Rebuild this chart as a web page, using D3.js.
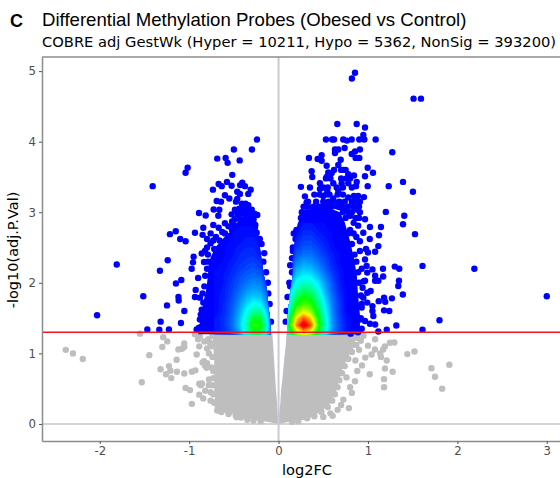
<!DOCTYPE html>
<html>
<head>
<meta charset="utf-8">
<script src="https://cdnjs.cloudflare.com/ajax/libs/d3/7.8.5/d3.min.js"></script>
<style>
	body { margin: 0; background: #fff; }
	svg { display: block; }
</style>
</head>
<body>
<svg id="chart" width="560" height="478"></svg>
<script>
// axis ticks
const xTicks = [-2, -1, 0, 1, 2, 3];
const yTicks = [0, 1, 2, 3, 4, 5];
const cutoff = 1.3;

// solid gray mass below the cutoff, read as an outline per level
const grayLeftY = [1.3, 1.1, 0.9, 0.7, 0.5, 0.35, 0.25, 0.15, 0.08, 0.03, 0];
const grayLeftOuter = [-0.74, -0.73, -0.72, -0.72, -0.72, -0.71, -0.69, -0.51, -0.375, -0.13, 0];
const grayLeftInner = [-0.07, -0.06, -0.05, -0.04, -0.03, -0.02, -0.015, -0.01, -0.005, 0, 0];
const grayRightY = [1.3, 1.1, 1.0, 0.8, 0.6, 0.5, 0.4, 0.3, 0.2, 0.12, 0.06, 0.03, 0];
const grayRightOuter = [0.87, 0.85, 0.8, 0.72, 0.67, 0.65, 0.62, 0.58, 0.5, 0.4, 0.3, 0.12, 0];
const grayRightInner = [0.09, 0.08, 0.07, 0.055, 0.04, 0.03, 0.025, 0.02, 0.01, 0.005, 0.005, 0, 0];

// separate gray probes
const nonSigPoints = [
	[-2.38, 1.05], [-2.3, 1.0], [-2.19, 0.92], [-1.55, 1.28], [-1.29, 1.23], [-1.245, 1.17], [-1.3, 1.09],
	[-1.446, 0.975], [-1.12, 1.055], [-1.08, 1.065], [-1.055, 1.14], [-1.055, 1.09], [-1.14, 0.91], [-1.226, 0.82],
	[-1.32, 0.775], [-1.21, 0.755], [-1.26, 0.705], [-1.137, 0.74], [-1.055, 0.715], [-1.2, 0.65], [-1.53, 0.59],
	[-0.97, 0.74], [-0.93, 0.76], [-1.04, 0.51], [-0.99, 0.48], [-0.97, 0.285], [-0.887, 0.57], [-0.857, 0.575],
	[-0.887, 0.415], [-0.842, 0.36], [-0.87, 0.55], [-0.916, 0.985], [-0.887, 1.1], [-0.9, 1.2], [-0.935, 1.27],
	[-0.88, 1.24], [-0.834, 0.89], [-0.823, 0.83], [-0.804, 0.795], [-0.85, 0.87], [-0.8, 0.86], [-0.778, 1.0],
	[-0.767, 1.15], [-0.786, 1.2], [-0.778, 0.63], [-0.73, 0.75], [-0.69, 0.32], [-0.686, 0.19], [-0.47, 0.094],
	[-0.6, 0.2], [-0.82, 0.47], [-0.76, 0.45], [-0.64, 0.17], [-0.56, 0.14], [-0.8, 1.07], [-0.83, 1.17],
	[-0.74, 1.25], [-0.75, 1.1], [-0.74, 0.95], [-0.75, 0.8], [-0.73, 0.65], [-0.74, 0.55], [-0.73, 0.42], [-0.72, 0.3],
	[-0.68, 0.25], [-0.63, 0.22], [-0.55, 0.17], [-0.48, 0.13], [-0.42, 0.09], [-0.35, 0.06], [-0.28, 0.05], [-0.2, 0.04],
	[-0.65, 0.4], [-0.78, 0.55], [-0.76, 0.33],
	[1.295, 1.155], [1.246, 1.15], [1.19, 1.1], [1.17, 1.055], [1.078, 1.055], [1.04, 0.985], [0.97, 0.94],
	[1.137, 1.0], [1.145, 0.95], [1.21, 0.9], [1.44, 0.99], [1.52, 1.027], [1.71, 0.79], [1.91, 0.84], [1.75, 0.67],
	[1.83, 0.5], [1.19, 0.785], [1.276, 0.74], [1.18, 0.635], [1.18, 0.52], [1.02, 0.705], [0.787, 0.225], [0.605, 0.115],
	[0.933, 0.83], [1.08, 1.2], [1.0, 1.11], [0.95, 1.25], [0.88, 0.75], [0.855, 0.605], [0.82, 0.44], [0.725, 0.345],
	[0.9, 1.05], [0.92, 1.18], [0.86, 0.9], [0.8, 0.52], [0.7, 0.27], [0.66, 0.2], [0.58, 0.15], [0.5, 0.1], [0.76, 0.66],
	[0.88, 1.22], [0.87, 1.12], [0.82, 1.02], [0.78, 0.92], [0.74, 0.82], [0.71, 0.72], [0.68, 0.62], [0.66, 0.52],
	[0.63, 0.42], [0.6, 0.33], [0.55, 0.24], [0.48, 0.17], [0.4, 0.11], [0.32, 0.08], [0.22, 0.04], [0.15, 0.03]
];

// solid blue mass above the cutoff, same idea as the gray one
const blueLeftY = [1.27, 1.5, 1.7, 1.9, 2.1, 2.3, 2.5, 2.7, 2.8];
const blueLeftOuter = [-0.9, -0.87, -0.845, -0.81, -0.79, -0.78, -0.71, -0.57, -0.43];
const blueLeftInner = [-0.09, -0.096, -0.118, -0.13, -0.163, -0.186, -0.208, -0.23, -0.3];
const blueRightY = [1.27, 1.55, 1.85, 2.1, 2.35, 2.6, 2.85, 3.0, 3.08];
const blueRightOuter = [0.91, 0.91, 0.888, 0.876, 0.843, 0.798, 0.742, 0.687, 0.52];
const blueRightInner = [0.094, 0.105, 0.127, 0.16, 0.16, 0.183, 0.217, 0.295, 0.407];

// separate blue probes
const hypoPoints = [
	[-0.242, 4.03], [-0.298, 3.89], [-0.5, 3.89], [-0.686, 3.76], [-0.592, 3.77], [-0.57, 3.7], [-0.435, 3.735],
	[-1.017, 3.63], [-1.04, 3.56], [-0.518, 3.53], [-1.408, 3.37], [-0.577, 3.43], [-0.67, 3.4], [-0.636, 3.37],
	[-0.734, 3.32], [-0.525, 3.375], [-0.43, 3.385], [-0.406, 3.42], [-0.376, 3.37], [-0.312, 3.32], [-0.339, 3.26],
	[-0.462, 3.29], [-0.432, 3.26], [-0.6, 3.24], [-0.551, 3.195], [-0.462, 3.19], [-0.476, 3.15], [-0.692, 3.16],
	[-0.644, 3.15], [-0.339, 3.1], [-0.89, 2.99], [-0.815, 2.955], [-0.726, 3.04], [-0.663, 3.035], [-0.674, 2.95],
	[-0.488, 3.035], [-0.525, 2.97], [-0.395, 3.0], [-0.3, 3.035], [-0.238, 2.96], [-0.73, 2.82], [-0.6, 2.845],
	[-1.215, 2.69], [-1.15, 2.73], [-0.935, 2.71], [-0.842, 2.78], [-0.76, 2.7], [-0.264, 2.78], [-0.245, 2.71],
	[-0.45, 2.95], [-0.36, 2.93], [-0.3, 2.9], [-0.42, 2.87], [-0.52, 2.87], [-0.56, 2.8], [-0.67, 2.78], [-0.63, 2.72],
	[-0.5, 2.78], [-0.35, 2.85], [-0.28, 2.85], [-0.7, 2.65], [-0.85, 2.68], [-0.8, 2.62], [-1.1, 2.62], [-1.04, 2.59],
	[-1.81, 2.26], [-1.24, 2.32], [-1.327, 2.17], [-1.148, 1.99], [-1.088, 2.04], [-1.513, 1.81], [-1.12, 1.8],
	[-1.117, 1.75], [-1.248, 1.68], [-1.054, 1.6], [-2.03, 1.54], [-1.319, 1.45], [-1.092, 1.43], [-1.468, 1.34],
	[-1.334, 1.335], [-1.226, 1.34], [-0.95, 2.37], [-0.957, 2.29], [-0.972, 2.2], [-0.86, 2.415], [-0.834, 2.295],
	[-0.9, 2.07], [-0.927, 1.9], [-0.935, 1.8], [-0.88, 1.79], [-0.842, 1.72], [-0.88, 1.48], [-0.823, 1.48],
	[-0.89, 1.365], [-0.916, 1.34], [-0.804, 1.365], [-0.823, 2.45], [-0.8, 2.5], [-0.76, 2.56], [-0.73, 2.6],
	[-0.12, 2.0], [-0.14, 2.15], [-0.17, 2.3], [-0.16, 2.42], [-0.19, 2.55], [-0.21, 2.62], [-0.085, 1.45], [-0.1, 1.7],
	[-0.115, 1.85],
	// dense top of the left lobe and its rough edge
	[-0.52, 2.75], [-0.47, 2.75], [-0.42, 2.75], [-0.37, 2.75], [-0.33, 2.75], [-0.28, 2.75], [-0.5, 2.82], [-0.44, 2.82],
	[-0.39, 2.82], [-0.34, 2.82], [-0.29, 2.82], [-0.26, 2.82], [-0.49, 2.9], [-0.43, 2.9], [-0.38, 2.9], [-0.33, 2.9],
	[-0.28, 2.9], [-0.46, 2.98], [-0.41, 2.98], [-0.35, 2.98], [-0.31, 2.98], [-0.27, 2.98], [-0.44, 3.05], [-0.38, 3.05],
	[-0.34, 3.05], [-0.41, 3.12], [-0.37, 3.12], [-0.86, 1.38], [-0.87, 1.55], [-0.86, 1.62], [-0.85, 1.85], [-0.83, 1.95],
	[-0.82, 2.1], [-0.8, 2.2], [-0.79, 2.3], [-0.79, 2.4], [-0.72, 2.48], [-0.66, 2.6], [-0.6, 2.7]
];

const hyperPoints = [
	[0.855, 4.976], [0.82, 4.895], [1.51, 4.61], [1.593, 4.61], [0.657, 4.25], [0.874, 4.25], [0.967, 4.2], [0.948, 4.095],
	[0.53, 4.03], [0.6, 4.03], [0.62, 4.03], [0.724, 4.03], [0.765, 4.015], [0.818, 4.03], [0.903, 4.03], [0.959, 4.03],
	[1.086, 4.03], [0.739, 3.91], [1.272, 3.85], [0.631, 3.89], [0.668, 3.89], [0.631, 3.84], [0.91, 3.89], [0.855, 3.86],
	[0.818, 3.825], [0.862, 3.77], [0.903, 3.77], [0.34, 3.77], [0.482, 3.81], [0.437, 3.755], [0.482, 3.73], [0.695, 3.745],
	[0.538, 3.66], [0.668, 3.67], [0.724, 3.6], [0.997, 3.63], [1.056, 3.56], [0.37, 3.58], [0.377, 3.5], [0.556, 3.565],
	[0.594, 3.555], [0.78, 3.54], [0.843, 3.52], [0.967, 3.51], [0.538, 3.5], [0.25, 3.36], [0.351, 3.35], [0.463, 3.41],
	[0.463, 3.33], [0.612, 3.41], [0.706, 3.41], [0.78, 3.41], [0.874, 3.43], [0.866, 3.37], [0.997, 3.37], [1.232, 3.37],
	[1.392, 3.43], [1.503, 3.29], [0.545, 3.3], [0.668, 3.3], [0.295, 3.225], [0.314, 3.14], [0.5, 3.23], [0.612, 3.195],
	[0.78, 3.21], [0.843, 3.23], [0.89, 3.23], [0.955, 3.215], [0.91, 3.15], [0.39, 3.04], [0.463, 3.07], [0.575, 3.09],
	[0.687, 3.07], [0.284, 2.95], [0.762, 3.03], [0.874, 3.04], [1.2, 3.005], [0.91, 3.0], [1.406, 2.95], [1.392, 2.83],
	[0.967, 2.9], [0.89, 2.81], [1.022, 2.79], [1.145, 2.79], [1.526, 2.69], [1.123, 2.675], [0.948, 2.71], [0.26, 2.85],
	[0.23, 2.72], [0.8, 2.95], [0.84, 2.85], [0.8, 2.75],
	[1.61, 2.24], [2.19, 2.2], [3.0, 1.81], [1.8, 1.47], [1.61, 1.335], [1.317, 1.395], [1.21, 1.335], [1.116, 1.31],
	[1.022, 1.42], [1.08, 1.41], [1.3, 2.23], [1.35, 2.2], [1.168, 2.2], [1.116, 2.52], [1.08, 2.44], [1.05, 2.19],
	[1.08, 2.1], [1.17, 2.09], [1.116, 2.03], [1.08, 2.03], [1.347, 2.03], [1.339, 1.955], [1.39, 1.835], [1.268, 1.78],
	[1.18, 1.79], [1.193, 1.73], [1.12, 1.74], [1.18, 1.61], [1.238, 1.6], [1.03, 1.885], [0.992, 1.86], [1.05, 1.67],
	[1.05, 1.6], [0.992, 1.72], [1.06, 1.53], [0.967, 1.46], [0.992, 2.145], [0.985, 2.24], [1.0, 2.43], [0.978, 2.48],
	[0.91, 2.59], [1.02, 2.62], [0.91, 2.45], [0.967, 2.33], [0.967, 2.03], [0.948, 1.79], [0.91, 1.48], [0.89, 1.3],
	[0.806, 1.28], [0.95, 2.02], [0.93, 2.2], [0.93, 1.65], [0.94, 1.93], [0.87, 2.65], [0.84, 2.7],
	[0.08, 1.45], [0.1, 1.8], [0.12, 2.0], [0.13, 2.25], [0.16, 2.5], [0.17, 2.7], [0.22, 2.65],
	// dense top of the right lobe and its rough edge
	[0.33, 3.15], [0.42, 3.15], [0.5, 3.15], [0.56, 3.15], [0.62, 3.15], [0.68, 3.15], [0.74, 3.15], [0.82, 3.15], [0.86, 3.15],
	[0.4, 3.25], [0.46, 3.25], [0.53, 3.25], [0.57, 3.25], [0.66, 3.25], [0.72, 3.25], [0.28, 3.08], [0.33, 3.08], [0.39, 3.08],
	[0.45, 3.08], [0.5, 3.08], [0.55, 3.08], [0.6, 3.08], [0.66, 3.08], [0.72, 3.08], [0.78, 3.08], [0.84, 3.08], [0.9, 3.08],
	[0.26, 3.0], [0.31, 3.0], [0.36, 3.0], [0.72, 3.0], [0.78, 3.0], [0.82, 3.0], [0.25, 2.92], [0.3, 2.92], [0.35, 2.92],
	[0.75, 2.92], [0.86, 2.92], [0.9, 2.92], [0.5, 3.35], [0.55, 3.35], [0.65, 3.35], [0.72, 3.35], [0.82, 3.35], [0.53, 3.48],
	[0.58, 3.48], [0.7, 3.48], [0.76, 3.48], [0.8, 3.48], [0.62, 3.6], [0.7, 3.6], [0.75, 3.6],
	[0.93, 1.35], [0.92, 1.5], [0.93, 1.7], [0.92, 1.82], [0.9, 2.0], [0.89, 2.15], [0.87, 2.3], [0.85, 2.4], [0.82, 2.55],
	[0.78, 2.7], [0.09, 1.6], [0.13, 1.95], [0.15, 2.15], [0.15, 2.35], [0.16, 2.45], [0.19, 2.62], [0.2, 2.75]
];

// density seen in the colours: 0 blue, 25 cyan, 50 green, 75 yellow, 100 red
const heatY = [1.2, 1.3, 1.4, 1.5, 1.6, 1.7, 1.8, 1.9, 2.0, 2.1, 2.2, 2.3, 2.4, 2.5, 2.6, 2.7, 2.8];
const heatLeftX = [-0.68, -0.6, -0.52, -0.44, -0.36, -0.28, -0.2, -0.12, -0.04];
const heatLeft = [
	[3, 5, 10, 18, 30, 44, 42, 22, 0],
	[3, 5, 10, 18, 30, 47, 45, 22, 0],
	[3, 6, 11, 20, 33, 56, 52, 24, 0],
	[3, 6, 11, 19, 30, 47, 45, 22, 0],
	[2, 5, 10, 17, 26, 36, 34, 18, 0],
	[2, 5, 9, 15, 22, 27, 25, 14, 0],
	[2, 4, 8, 13, 18, 21, 20, 11, 0],
	[1, 4, 7, 11, 15, 17, 16, 8, 0],
	[1, 3, 6, 9, 12, 14, 13, 5, 0],
	[1, 3, 5, 8, 10, 11, 10, 3, 0],
	[1, 2, 4, 6, 8, 9, 7, 1, 0],
	[0, 2, 3, 5, 6, 7, 5, 0, 0],
	[0, 1, 2, 4, 5, 5, 3, 0, 0],
	[0, 1, 2, 3, 4, 4, 2, 0, 0],
	[0, 0, 1, 2, 3, 3, 1, 0, 0],
	[0, 0, 1, 1, 2, 2, 1, 0, 0],
	[0, 0, 0, 1, 1, 1, 0, 0, 0]
];
const heatRightX = [0.04, 0.12, 0.2, 0.28, 0.36, 0.44, 0.52, 0.6, 0.68, 0.76, 0.84];
const heatRight = [
	[0, 36, 60, 72, 64, 44, 26, 14, 7, 2, 0],
	[0, 40, 68, 82, 74, 48, 28, 15, 7, 2, 0],
	[0, 50, 88, 108, 94, 58, 32, 16, 8, 3, 0],
	[0, 42, 78, 92, 80, 52, 30, 15, 7, 2, 0],
	[0, 34, 62, 72, 64, 45, 27, 14, 6, 1, 0],
	[0, 28, 50, 58, 54, 40, 24, 13, 6, 1, 0],
	[0, 22, 42, 50, 47, 34, 21, 12, 5, 1, 0],
	[0, 18, 34, 40, 38, 29, 18, 10, 4, 1, 0],
	[0, 14, 27, 31, 30, 24, 16, 9, 3, 0, 0],
	[0, 10, 21, 25, 24, 19, 13, 7, 3, 0, 0],
	[0, 6, 17, 20, 19, 15, 10, 5, 2, 0, 0],
	[0, 3, 13, 16, 15, 12, 8, 4, 1, 0, 0],
	[0, 2, 9, 12, 12, 9, 6, 3, 1, 0, 0],
	[0, 1, 6, 9, 9, 7, 4, 2, 0, 0, 0],
	[0, 0, 4, 7, 7, 5, 3, 1, 0, 0, 0],
	[0, 0, 2, 5, 5, 3, 2, 1, 0, 0, 0],
	[0, 0, 1, 3, 3, 2, 1, 0, 0, 0, 0]
];

const grayCol = "#bebebe";
const blueCol = "#0000ff";
const dotRadius = 3.2;

const svg = d3.select("#chart");

// panel runs off the right side of the picture, like the reference
const panel = { left: 42, right: 560, top: 57, bottom: 441 };

const x = d3.scaleLinear().domain([-2.646, 3.148]).range([panel.left, panel.right]);
const y = d3.scaleLinear().domain([-0.2415, 5.2]).range([panel.bottom, panel.top]);

const heatColor = d3.scaleLinear()
	.domain([0, 25, 50, 75, 100])
	.range(["#0000ff", "#00ffff", "#00ff00", "#ffff00", "#ff0000"])
	.clamp(true);

// zero lines go under the points
svg.append("line")
	.attr("x1", panel.left).attr("x2", panel.right)
	.attr("y1", y(0)).attr("y2", y(0))
	.attr("stroke", "#c4c4c4").attr("stroke-width", 1.5);

function lobe(levels, outer, inner) {
	const rows = levels.map((v, i) => ({ v: v, a: outer[i], b: inner[i] }));
	return d3.area()
		.y(d => y(d.v))
		.x0(d => x(d.a))
		.x1(d => x(d.b))(rows);
}

// gray part
svg.append("path").attr("d", lobe(grayLeftY, grayLeftOuter, grayLeftInner)).attr("fill", grayCol);
svg.append("path").attr("d", lobe(grayRightY, grayRightOuter, grayRightInner)).attr("fill", grayCol);
svg.append("g").selectAll("circle")
	.data(nonSigPoints)
	.enter()
	.append("circle")
	.attr("cx", d => x(d[0]))
	.attr("cy", d => y(d[1]))
	.attr("r", dotRadius)
	.attr("fill", grayCol);

// blue part
const leftBlob = lobe(blueLeftY, blueLeftOuter, blueLeftInner);
const rightBlob = lobe(blueRightY, blueRightOuter, blueRightInner);
svg.append("path").attr("d", leftBlob).attr("fill", blueCol);
svg.append("path").attr("d", rightBlob).attr("fill", blueCol);
svg.append("g").selectAll("circle")
	.data(hypoPoints.concat(hyperPoints))
	.enter()
	.append("circle")
	.attr("cx", d => x(d[0]))
	.attr("cy", d => y(d[1]))
	.attr("r", dotRadius)
	.attr("fill", blueCol);

// colour inside each blob, contour bands thin enough to look continuous
function drawHeat(id, blob, cols, matrix) {
	const defs = svg.append("clipPath").attr("id", id);
	defs.append("path").attr("d", blob);

	const bands = d3.contours()
		.size([cols.length, heatY.length])
		.thresholds(d3.range(1, 101, 1.5))(matrix.flat());

	const dx = cols[1] - cols[0];
	const dy = heatY[1] - heatY[0];
	const toData = d3.geoTransform({
		point: function (gx, gy) {
			this.stream.point(x(cols[0] + (gx - 0.5) * dx), y(heatY[0] + (gy - 0.5) * dy));
		}
	});

	svg.append("g")
		.attr("clip-path", "url(#" + id + ")")
		.selectAll("path")
		.data(bands)
		.enter()
		.append("path")
		.attr("d", d3.geoPath(toData))
		.attr("fill", d => heatColor(d.value));
}
drawHeat("clip-left", leftBlob, heatLeftX, heatLeft);
drawHeat("clip-right", rightBlob, heatRightX, heatRight);

// reference lines on top
svg.append("line")
	.attr("x1", x(0)).attr("x2", x(0))
	.attr("y1", panel.top).attr("y2", panel.bottom)
	.attr("stroke", "#c9c9d4").attr("stroke-width", 2);
svg.append("line")
	.attr("x1", panel.left).attr("x2", panel.right)
	.attr("y1", y(cutoff)).attr("y2", y(cutoff))
	.attr("stroke", "#f5141e").attr("stroke-width", 1.5);

// axes
const xAxis = svg.append("g")
	.attr("transform", "translate(0," + panel.bottom + ")")
	.call(d3.axisBottom(x).tickValues(xTicks).tickSize(3).tickSizeOuter(0).tickPadding(3).tickFormat(d3.format("d")));
const yAxis = svg.append("g")
	.attr("transform", "translate(" + panel.left + ",0)")
	.call(d3.axisLeft(y).tickValues(yTicks).tickSize(3).tickSizeOuter(0).tickPadding(3).tickFormat(d => d));

[xAxis, yAxis].forEach(function (a) {
	a.selectAll("path").attr("stroke", "#8c8c8c").attr("stroke-width", 1.5);
	a.selectAll("line").attr("stroke", "#555");
	a.selectAll("text")
		.attr("fill", "#4d4d4d")
		.style("font-family", "'DejaVu Sans'")
		.style("font-size", "11.7px");
});
xAxis.selectAll("text").text(d => String(d).replace("\u2212", "-"));
svg.append("line")
	.attr("x1", panel.left).attr("x2", panel.right)
	.attr("y1", panel.top).attr("y2", panel.top)
	.attr("stroke", "#8c8c8c").attr("stroke-width", 1.5);

// titles
svg.append("text")
	.attr("x", 10).attr("y", 26.5)
	.style("font-family", "'Liberation Sans'")
	.style("font-weight", "bold")
	.style("font-size", "18px")
	.text("C");
svg.append("text")
	.attr("x", 42).attr("y", 26)
	.style("font-family", "'Liberation Sans'")
	.style("font-size", "18.6px")
	.text("Differential Methylation Probes (Obesed vs Control)");
svg.append("text")
	.attr("x", 42).attr("y", 46.5)
	.style("font-family", "'DejaVu Sans'")
	.style("font-size", "14.7px")
	.text("COBRE adj GestWk (Hyper = 10211, Hypo = 5362, NonSig = 393200)");
svg.append("text")
	.attr("x", 307).attr("y", 475)
	.attr("text-anchor", "middle")
	.style("font-family", "'DejaVu Sans'")
	.style("font-size", "14.6px")
	.text("log2FC");
svg.append("text")
	.attr("transform", "translate(18,250) rotate(-90)")
	.attr("text-anchor", "middle")
	.style("font-family", "'DejaVu Sans'")
	.style("font-size", "14.5px")
	.text("-log10(adj.P.Val)");
</script>
</body>
</html>
